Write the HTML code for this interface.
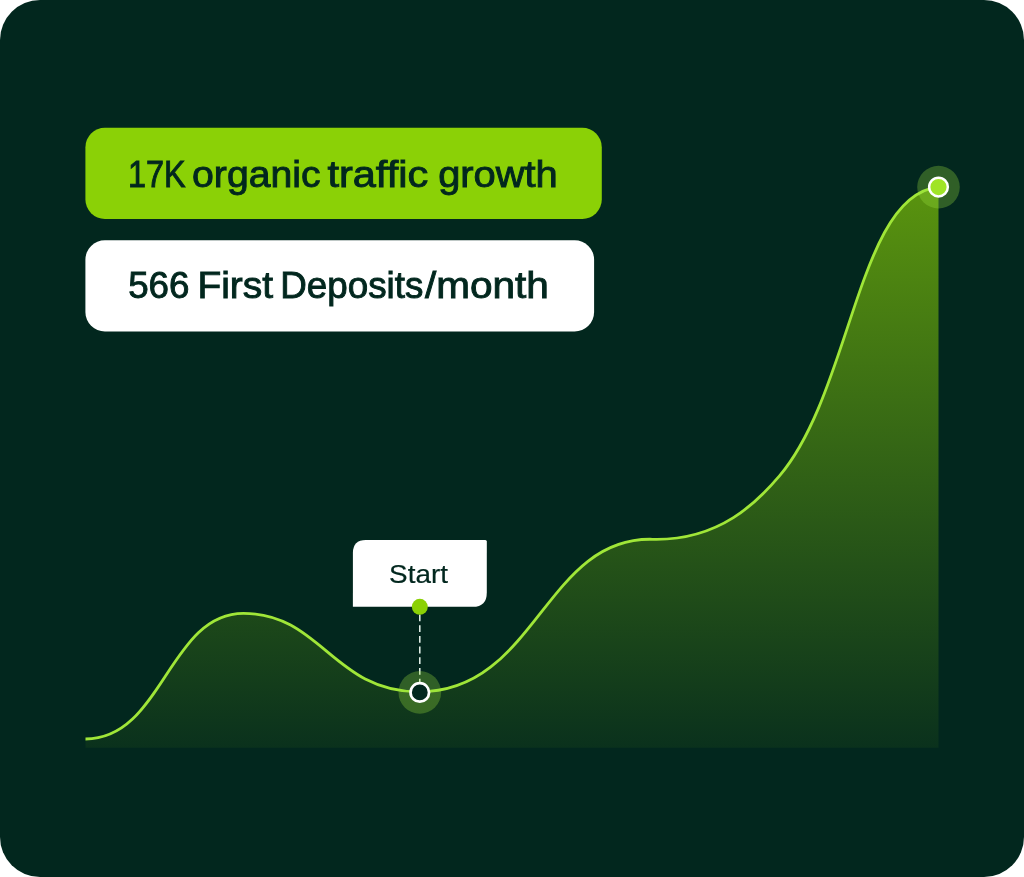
<!DOCTYPE html>
<html lang="en"><head><meta charset="utf-8"><title>Growth chart</title>
<style>
html,body{margin:0;padding:0;background:#fff;}
body{width:1024px;height:877px;overflow:hidden;}
svg{display:block}
text{font-family:"Liberation Sans",sans-serif;fill:#02271e;}
.big{font-size:36px;stroke:#02271e;stroke-width:0.9px;}
.small{font-size:25px;stroke:#02271e;stroke-width:0.2px;}
</style></head><body>
<svg width="1024" height="877" viewBox="0 0 1024 877">
<defs>
<linearGradient id="fill" gradientUnits="userSpaceOnUse" x1="0" y1="186" x2="0" y2="748">
<stop offset="0" stop-color="#8bd106" stop-opacity="0.64"/>
<stop offset="1" stop-color="#8bd106" stop-opacity="0.06"/>
</linearGradient>
</defs>
<rect x="0" y="0" width="1024" height="877" rx="40" ry="40" fill="#02271e"/>
<path d="M85.5 739.0 C162.7 739.0 168.6 613.3 243.5 613.3 C321.0 613.3 333.4 691.9 418.8 691.9 C536.6 691.9 544.5 536.7 652.5 539.3 C720.3 540.9 758.1 501.1 779.7 475.6 C851.6 390.6 858.3 194.1 938.5 187.1 L938.5 747.7 L85.5 747.7 Z" fill="url(#fill)"/>
<path d="M85.5 739.0 C162.7 739.0 168.6 613.3 243.5 613.3 C321.0 613.3 333.4 691.9 418.8 691.9 C536.6 691.9 544.5 536.7 652.5 539.3 C720.3 540.9 758.1 501.1 779.7 475.6 C851.6 390.6 858.3 194.1 938.5 187.1" fill="none" stroke="#a0e638" stroke-width="2.8" stroke-linecap="butt" stroke-linejoin="round"/>
<!-- pills -->
<rect x="85.4" y="127.7" width="516.4" height="91.2" rx="19.5" fill="#8bd106"/>
<rect x="85.4" y="240.3" width="508.7" height="91.2" rx="19.5" fill="#ffffff"/>
<text class="big" y="186.5"><tspan x="127.9" textLength="57.6" lengthAdjust="spacingAndGlyphs">17K</tspan> <tspan x="192.1" textLength="128.4" lengthAdjust="spacingAndGlyphs">organic</tspan> <tspan x="327.4" textLength="100.8" lengthAdjust="spacingAndGlyphs">traffic</tspan> <tspan x="438.2" textLength="119.6" lengthAdjust="spacingAndGlyphs">growth</tspan></text>
<text class="big" y="298.4"><tspan x="128.2" textLength="61.3" lengthAdjust="spacingAndGlyphs">566</tspan> <tspan x="197.4" textLength="75.6" lengthAdjust="spacingAndGlyphs">First</tspan> <tspan x="280.3" textLength="143" lengthAdjust="spacingAndGlyphs">Deposits</tspan><tspan x="425" textLength="123.8" lengthAdjust="spacingAndGlyphs">/month</tspan></text>
<!-- start label -->
<path d="M366.7 540 H485.3 Q486.8 540 486.8 541.5 V592.7 Q486.8 606.8 472.8 606.8 H352.9 V553 Q352.9 540 365.9 540 Z" fill="#fff"/>
<text class="small" x="389.1" y="582.6" textLength="58.8" lengthAdjust="spacingAndGlyphs">Start</text>
<line x1="419.8" y1="614.5" x2="419.8" y2="683" stroke="#e8f6ee" stroke-width="1.5" stroke-dasharray="6.8 3.9"/>
<circle cx="419.8" cy="606.8" r="8" fill="#8bd106"/>
<circle cx="419.8" cy="692.4" r="21.3" fill="#9be23f" fill-opacity="0.30"/>
<circle cx="419.8" cy="692.4" r="9.25" fill="#02271e" stroke="#fff" stroke-width="2.7"/>
<!-- end marker -->
<circle cx="938.5" cy="187.1" r="21.3" fill="#9be23f" fill-opacity="0.30"/>
<circle cx="938.5" cy="187.1" r="9.35" fill="#a0e426" stroke="#fff" stroke-width="2.5"/>
</svg>
</body></html>
